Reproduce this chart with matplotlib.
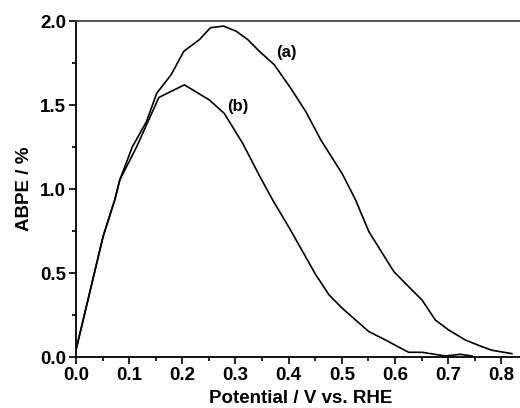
import numpy as np
import matplotlib
matplotlib.use('Agg')
import matplotlib.pyplot as plt
from matplotlib.ticker import MultipleLocator

plt.rcParams['font.family'] = ['Liberation Sans', 'DejaVu Sans']
plt.rcParams['font.weight'] = 'bold'

# curve (a)
pot_a = [0.0, 0.051, 0.073, 0.0825, 0.106, 0.1325, 0.152, 0.179, 0.203, 0.2325, 0.253,
         0.2775, 0.301, 0.323, 0.345, 0.373, 0.404, 0.4325, 0.461, 0.501, 0.526,
         0.551, 0.598, 0.626, 0.651, 0.676, 0.701, 0.7325, 0.764, 0.7825, 0.82]
abpe_a = [0.04, 0.716, 0.935, 1.054, 1.25, 1.40, 1.57, 1.68, 1.82, 1.89, 1.96,
          1.97, 1.94, 1.89, 1.82, 1.74, 1.60, 1.46, 1.29, 1.09, 0.935,
          0.746, 0.508, 0.418, 0.339, 0.22, 0.161, 0.101, 0.061, 0.04, 0.02]

# curve (b)
pot_b = [0.0, 0.051, 0.073, 0.0825, 0.114, 0.156, 0.204, 0.251, 0.279, 0.314, 0.345,
         0.37, 0.401, 0.426, 0.451, 0.476, 0.501, 0.526, 0.551, 0.5825, 0.6075,
         0.626, 0.651, 0.695, 0.723, 0.745]
abpe_b = [0.04, 0.716, 0.935, 1.054, 1.25, 1.545, 1.62, 1.53, 1.45, 1.27, 1.08,
          0.935, 0.77, 0.63, 0.49, 0.37, 0.29, 0.22, 0.151, 0.101, 0.058,
          0.028, 0.028, 0.006, 0.016, 0.006]

fig = plt.figure(figsize=(5.2, 4.08), dpi=100)
ax = fig.add_axes([0.146, 0.125, 0.864, 0.8235])

ax.plot(pot_a, abpe_a, color='black', lw=1.2)
ax.plot(pot_b, abpe_b, color='black', lw=1.2)

ax.text(0.395, 1.81, '(a)', fontsize=12, fontweight='bold', ha='center', va='center')
ax.text(0.304, 1.49, '(b)', fontsize=12, fontweight='bold', ha='center', va='center')

ax.set_xlim(0, 0.845)
ax.set_ylim(0, 2.0)
ax.xaxis.set_major_locator(MultipleLocator(0.1))
ax.xaxis.set_minor_locator(MultipleLocator(0.05))
ax.yaxis.set_major_locator(MultipleLocator(0.5))
ax.yaxis.set_minor_locator(MultipleLocator(0.25))
ax.tick_params(which='major', direction='out', length=5, width=1.2, labelsize=13.5, pad=2)
ax.tick_params(which='minor', direction='out', length=3, width=1.2)
ax.spines['right'].set_visible(False)
ax.spines['top'].set_color('#444444')
for s in ['left', 'bottom', 'top']:
    ax.spines[s].set_linewidth(1.3)
for lab in ax.get_xticklabels() + ax.get_yticklabels():
    lab.set_fontweight('bold')

ax.set_xlabel('Potential / V vs. RHE', fontsize=13.5, fontweight='bold', labelpad=4.5)
ax.set_ylabel('ABPE / %', fontsize=13.5, fontweight='bold', labelpad=5)

fig.savefig('out.png', dpi=100)
